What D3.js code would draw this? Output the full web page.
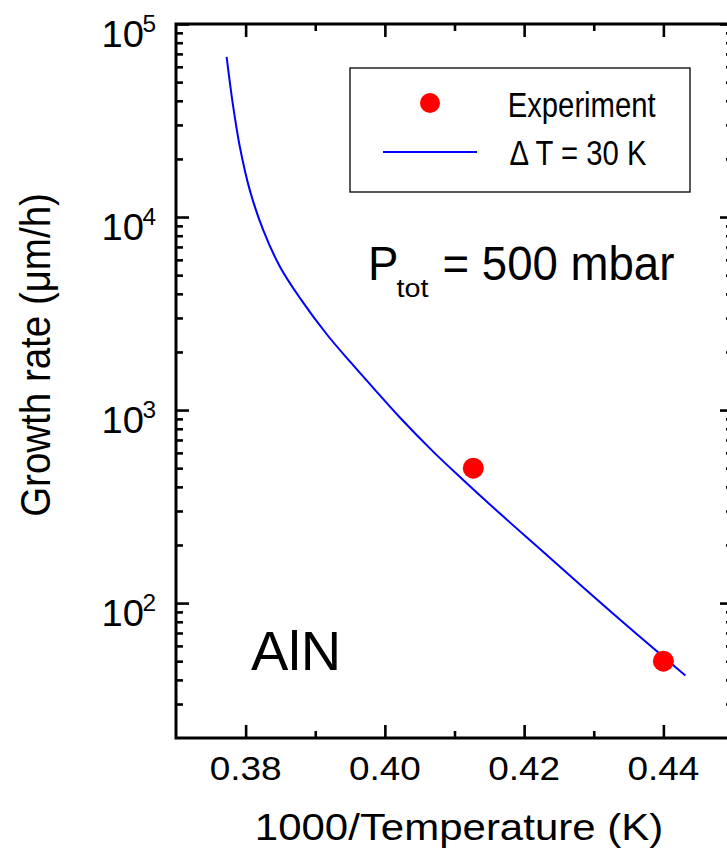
<!DOCTYPE html>
<html>
<head>
<meta charset="utf-8">
<script src="https://cdn.jsdelivr.net/npm/d3@7"></script>
<style>
  html, body { margin: 0; padding: 0; background: #fff; }
  svg { display: block; font-family: "Liberation Sans", Arial, Helvetica, sans-serif; }
</style>
</head>
<body>
<svg id="chart" width="727" height="855"></svg>
<script>
// ---- data ----
const expX = [0.4127, 0.4400];
const expY = [500, 50];

const modelX = [0.37727, 0.37822, 0.37918, 0.38062, 0.38253, 0.38493, 0.38781, 0.39165, 0.39500,
                0.39835, 0.40219, 0.40697, 0.41129, 0.41657, 0.42232, 0.42854, 0.43429, 0.44004, 0.44316];
const modelY = [67600, 37200, 23000, 13700, 8550, 5530, 3800, 2470, 1780,
                1300, 912, 607, 433, 290, 190, 120, 79.1, 52.5, 42.2];

const xMajorTicks = [0.38, 0.40, 0.42, 0.44];
const xMinorTicks = [0.39, 0.41, 0.43];
const yMajorTicks = [1e2, 1e3, 1e4, 1e5];
const yExponents = ["2", "3", "4", "5"];
const legendLabels = ["Experiment", "\u0394 T = 30 K"];

// ---- scales ----
const svg = d3.select("#chart");
const x = d3.scaleLinear().domain([0.37, 0.45]).range([176, 733]);
const y = d3.scaleLog().domain([20, 1e5]).range([738, 24]);

const yMinorTicks = [];
[10, 100, 1000, 10000].forEach(dec => {
  for (let k = 2; k <= 9; k++) {
    const v = dec * k;
    if (v > 20 && v < 1e5) yMinorTicks.push(v);
  }
});

function styleAxis(g, width) {
  g.select(".domain").remove();
  g.selectAll(".tick line").attr("stroke", "#000").attr("stroke-width", width);
  g.selectAll(".tick text").remove();
}

const [x0, x1] = x.range();
const [yb, yt] = y.range();

// major / minor ticks, pointing inward
const axes = [
  {axis: d3.axisBottom, scale: x, ticks: xMajorTicks, size: -13, tr: `translate(0,${yb})`},
  {axis: d3.axisBottom, scale: x, ticks: xMinorTicks, size: -7, tr: `translate(0,${yb})`},
  {axis: d3.axisTop, scale: x, ticks: xMajorTicks, size: -13, tr: `translate(0,${yt})`},
  {axis: d3.axisTop, scale: x, ticks: xMinorTicks, size: -7, tr: `translate(0,${yt})`},
  {axis: d3.axisLeft, scale: y, ticks: yMajorTicks, size: -13, tr: `translate(${x0},0)`},
  {axis: d3.axisLeft, scale: y, ticks: yMinorTicks, size: -7, tr: `translate(${x0},0)`},
  {axis: d3.axisRight, scale: y, ticks: yMajorTicks, size: -13, tr: `translate(${x1},0)`},
  {axis: d3.axisRight, scale: y, ticks: yMinorTicks, size: -7, tr: `translate(${x1},0)`}
];
axes.forEach(a => {
  const g = svg.append("g").attr("transform", a.tr)
    .call(a.axis(a.scale).tickValues(a.ticks).tickSize(a.size).tickSizeOuter(0));
  styleAxis(g, 2.6);
});

// frame
svg.append("rect")
  .attr("x", x0).attr("y", yt)
  .attr("width", x1 - x0).attr("height", yb - yt)
  .attr("fill", "none").attr("stroke", "#000").attr("stroke-width", 3);

// text helper (with horizontal stretch like the original)
function txt(str, px, py, size, sx, anchor, rot) {
  return svg.append("text")
    .attr("transform", `translate(${px},${py}) scale(${sx},1)` + (rot ? " rotate(-90)" : ""))
    .attr("text-anchor", anchor || "start")
    .attr("font-size", size)
    .attr("fill", "#000")
    .text(str);
}

// x tick labels
xMajorTicks.forEach(v => txt(d3.format(".2f")(v), x(v), 780, 33, 1.12, "middle"));

// y tick labels: 10^n
yMajorTicks.forEach((v, i) => {
  txt("10", 144, y(v) + 22.5, 36, 1.06, "end");
  txt(yExponents[i], 142.5, y(v) + 8, 23, 1.06, "start");
});

// axis titles
txt("1000/Temperature (K)", 459, 840, 37.5, 1.12, "middle");
txt("Growth rate (\u03bcm/h)", 49.5, 355, 38.5, 1.12, "middle", true);

// model curve
const line = d3.line()
  .x(d => x(d[0])).y(d => y(d[1]))
  .curve(d3.curveCatmullRom.alpha(0.5));
svg.append("path")
  .datum(modelX.map((v, i) => [v, modelY[i]]))
  .attr("d", line)
  .attr("fill", "none").attr("stroke", "#0000ff").attr("stroke-width", 2);

// experiment points
svg.selectAll("circle.exp")
  .data(expX.map((v, i) => [v, expY[i]]))
  .join("circle").attr("class", "exp")
  .attr("cx", d => x(d[0])).attr("cy", d => y(d[1]))
  .attr("r", 10.5).attr("fill", "#ff0000");

// annotations
txt("P", 368, 280, 48, 0.95, "start");
txt("tot", 396.5, 297, 25, 1.15, "start");
txt("= 500 mbar", 442.5, 280, 48, 0.95, "start");
txt("AlN", 251, 670, 56, 1.0, "start");

// legend
svg.append("rect")
  .attr("x", 350).attr("y", 68).attr("width", 340).attr("height", 124)
  .attr("fill", "#fff").attr("stroke", "#000").attr("stroke-width", 1.3);
svg.append("circle").attr("cx", 430).attr("cy", 103).attr("r", 10).attr("fill", "#ff0000");
svg.append("line").attr("x1", 383).attr("x2", 477).attr("y1", 152).attr("y2", 152)
  .attr("stroke", "#0000ff").attr("stroke-width", 2);
txt(legendLabels[0], 507.7, 117, 35, 0.836, "start");
txt(legendLabels[1], 509.5, 165, 35, 0.836, "start");
</script>
</body>
</html>
